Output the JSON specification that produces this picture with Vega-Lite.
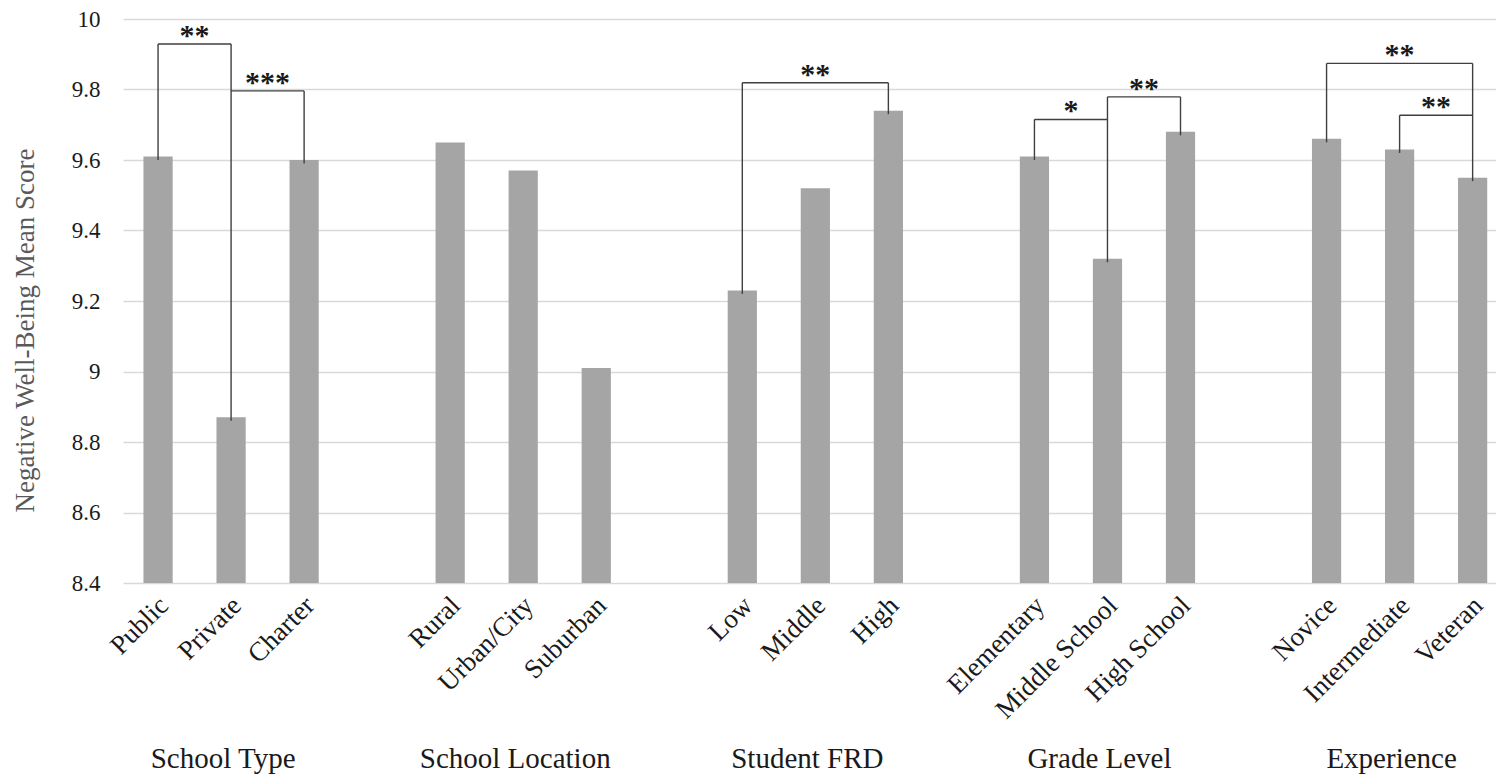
{
  "$schema": "https://vega.github.io/schema/vega-lite/v6.json",
  "width": 1373,
  "height": 564,
  "autosize": {"type": "none"},
  "padding": {"left": 123, "top": 19, "right": 0, "bottom": 194},
  "background": "white",
  "config": {"view": {"stroke": null}, "font": "Liberation Serif"},
  "datasets": {
    "bars": [
      {"cat": "Public", "group": "School Type", "value": 9.61},
      {"cat": "Private", "group": "School Type", "value": 8.87},
      {"cat": "Charter", "group": "School Type", "value": 9.60},
      {"cat": "Rural", "group": "School Location", "value": 9.65},
      {"cat": "Urban/City", "group": "School Location", "value": 9.57},
      {"cat": "Suburban", "group": "School Location", "value": 9.01},
      {"cat": "Low", "group": "Student FRD", "value": 9.23},
      {"cat": "Middle", "group": "Student FRD", "value": 9.52},
      {"cat": "High", "group": "Student FRD", "value": 9.74},
      {"cat": "Elementary", "group": "Grade Level", "value": 9.61},
      {"cat": "Middle School", "group": "Grade Level", "value": 9.32},
      {"cat": "High School", "group": "Grade Level", "value": 9.68},
      {"cat": "Novice", "group": "Experience", "value": 9.66},
      {"cat": "Intermediate", "group": "Experience", "value": 9.63},
      {"cat": "Veteran", "group": "Experience", "value": 9.55}
    ],
    "groups": [
      {"cat": "Private", "group": "School Type"},
      {"cat": "Urban/City", "group": "School Location"},
      {"cat": "Middle", "group": "Student FRD"},
      {"cat": "Middle School", "group": "Grade Level"},
      {"cat": "Intermediate", "group": "Experience"}
    ],
    "brackets": [
      {"cat": "Public", "cat2": "Private", "y1": 9.929, "y2": 9.929},
      {"cat": "Public", "cat2": "Public", "y1": 9.929, "y2": 9.60},
      {"cat": "Private", "cat2": "Private", "y1": 9.929, "y2": 8.86},
      {"cat": "Private", "cat2": "Charter", "y1": 9.796, "y2": 9.796},
      {"cat": "Charter", "cat2": "Charter", "y1": 9.796, "y2": 9.59},
      {"cat": "Low", "cat2": "High", "y1": 9.819, "y2": 9.819},
      {"cat": "Low", "cat2": "Low", "y1": 9.819, "y2": 9.22},
      {"cat": "High", "cat2": "High", "y1": 9.819, "y2": 9.73},
      {"cat": "Elementary", "cat2": "Middle School", "y1": 9.715, "y2": 9.715},
      {"cat": "Elementary", "cat2": "Elementary", "y1": 9.715, "y2": 9.60},
      {"cat": "Middle School", "cat2": "Middle School", "y1": 9.779, "y2": 9.31},
      {"cat": "Middle School", "cat2": "High School", "y1": 9.779, "y2": 9.779},
      {"cat": "High School", "cat2": "High School", "y1": 9.779, "y2": 9.67},
      {"cat": "Novice", "cat2": "Veteran", "y1": 9.874, "y2": 9.874},
      {"cat": "Novice", "cat2": "Novice", "y1": 9.874, "y2": 9.65},
      {"cat": "Veteran", "cat2": "Veteran", "y1": 9.874, "y2": 9.54},
      {"cat": "Intermediate", "cat2": "Veteran", "y1": 9.727, "y2": 9.727},
      {"cat": "Intermediate", "cat2": "Intermediate", "y1": 9.727, "y2": 9.62}
    ],
    "starsAdjacent": [
      {"cat": "Public", "stars": "**", "y": 9.929},
      {"cat": "Private", "stars": "***", "y": 9.796},
      {"cat": "Elementary", "stars": "*", "y": 9.715},
      {"cat": "Middle School", "stars": "**", "y": 9.779},
      {"cat": "Intermediate", "stars": "**", "y": 9.727}
    ],
    "starsCentered": [
      {"cat": "Middle", "stars": "**", "y": 9.819},
      {"cat": "Intermediate", "stars": "**", "y": 9.874}
    ]
  },
  "layer": [
    {
      "data": {"name": "bars"},
      "mark": {"type": "bar", "color": "#a5a5a5"},
      "encoding": {
        "x": {
          "field": "cat", "type": "nominal",
          "scale": {"domain": ["Public","Private","Charter","gap1","Rural","Urban/City","Suburban","gap2","Low","Middle","High","gap3","Elementary","Middle School","High School","gap4","Novice","Intermediate","Veteran"], "paddingInner": 0.6, "paddingOuter": 0.2, "align": 0.7},
          "axis": {
            "title": null, "domain": false, "ticks": false, "grid": false,
            "labelAngle": -45, "labelAlign": "right", "labelBaseline": "middle",
            "labelPadding": 18, "labelOffset": 6, "labelFontSize": 27,
            "labelFont": "Liberation Serif", "labelColor": "#1a1a1a",
            "labelOverlap": false, "labelLimit": 0,
            "labelExpr": "indexof(datum.label, 'gap') == 0 ? '' : datum.label"
          }
        },
        "y": {
          "field": "value", "type": "quantitative",
          "scale": {"domain": [8.4, 10], "zero": false, "nice": false},
          "axis": {
            "title": "Negative Well-Being Mean Score",
            "titleFont": "Liberation Serif", "titleFontSize": 27, "titleFontWeight": "normal",
            "titleColor": "#595959", "titlePadding": 32, "titleY": 311,
            "values": [8.4, 8.6, 8.8, 9, 9.2, 9.4, 9.6, 9.8, 10],
            "format": ".1~f",
            "grid": true, "gridColor": "#d9d9d9", "gridWidth": 1.5,
            "domain": false, "ticks": false, "labelPadding": 23,
            "labelFont": "Liberation Serif", "labelFontSize": 23, "labelColor": "#1a1a1a"
          }
        },
        "y2": {"datum": 8.4}
      }
    },
    {
      "data": {"name": "brackets"},
      "mark": {"type": "rule", "color": "#3f3f3f", "strokeWidth": 1.4},
      "encoding": {
        "x": {"field": "cat", "type": "nominal", "axis": null,
          "scale": {"domain": ["Public","Private","Charter","gap1","Rural","Urban/City","Suburban","gap2","Low","Middle","High","gap3","Elementary","Middle School","High School","gap4","Novice","Intermediate","Veteran"], "paddingInner": 0.6, "paddingOuter": 0.2, "align": 0.7}},
        "x2": {"field": "cat2"},
        "y": {"field": "y1", "type": "quantitative", "axis": null},
        "y2": {"field": "y2"}
      }
    },
    {
      "data": {"name": "starsAdjacent"},
      "mark": {"type": "text", "font": "Liberation Serif", "fontSize": 30, "fontWeight": "bold", "color": "#1a1a1a", "baseline": "alphabetic", "align": "center", "dy": 1},
      "encoding": {
        "x": {"field": "cat", "type": "nominal", "axis": null, "bandPosition": 1.75,
          "scale": {"domain": ["Public","Private","Charter","gap1","Rural","Urban/City","Suburban","gap2","Low","Middle","High","gap3","Elementary","Middle School","High School","gap4","Novice","Intermediate","Veteran"], "paddingInner": 0.6, "paddingOuter": 0.2, "align": 0.7}},
        "y": {"field": "y", "type": "quantitative", "axis": null},
        "text": {"field": "stars"}
      }
    },
    {
      "data": {"name": "starsCentered"},
      "mark": {"type": "text", "font": "Liberation Serif", "fontSize": 30, "fontWeight": "bold", "color": "#1a1a1a", "baseline": "alphabetic", "align": "center", "dy": 1},
      "encoding": {
        "x": {"field": "cat", "type": "nominal", "axis": null,
          "scale": {"domain": ["Public","Private","Charter","gap1","Rural","Urban/City","Suburban","gap2","Low","Middle","High","gap3","Elementary","Middle School","High School","gap4","Novice","Intermediate","Veteran"], "paddingInner": 0.6, "paddingOuter": 0.2, "align": 0.7}},
        "y": {"field": "y", "type": "quantitative", "axis": null},
        "text": {"field": "stars"}
      }
    },
    {
      "data": {"name": "groups"},
      "mark": {"type": "point", "opacity": 0},
      "encoding": {
        "x": {"field": "cat", "type": "nominal",
          "scale": {"domain": ["Public","Private","Charter","gap1","Rural","Urban/City","Suburban","gap2","Low","Middle","High","gap3","Elementary","Middle School","High School","gap4","Novice","Intermediate","Veteran"], "paddingInner": 0.6, "paddingOuter": 0.2, "align": 0.7},
          "axis": {
            "title": null, "domain": false, "ticks": false, "grid": false,
            "orient": "bottom", "offset": 184,
            "values": ["Private", "Urban/City", "Middle", "Middle School", "Intermediate"],
            "labelExpr": "datum.label == 'Private' ? 'School Type' : datum.label == 'Urban/City' ? 'School Location' : datum.label == 'Middle' ? 'Student FRD' : datum.label == 'Middle School' ? 'Grade Level' : 'Experience'",
            "labelAngle": 0, "labelAlign": "center", "labelBaseline": "alphabetic",
            "labelPadding": 0, "labelOffset": -8, "labelFontSize": 29, "labelFont": "Liberation Serif",
            "labelColor": "#1a1a1a", "labelOverlap": false, "labelLimit": 0
          }
        },
        "y": {"datum": 9, "type": "quantitative", "axis": null}
      }
    }
  ],
  "resolve": {"axis": {"x": "independent", "y": "independent"}}
}
